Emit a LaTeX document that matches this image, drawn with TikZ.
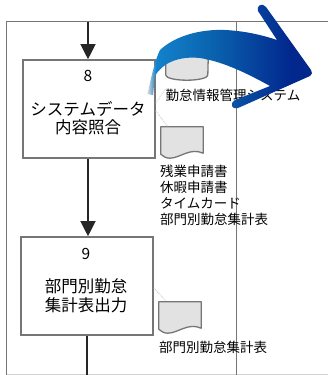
\documentclass[tikz,border=0pt]{standalone}
\usepackage{fontspec}
\setmainfont{Noto Sans CJK JP}
\usetikzlibrary{arrows.meta}
\definecolor{arcL}{HTML}{DADADA}
\definecolor{arcA}{HTML}{1482CC}
\definecolor{arcB}{HTML}{0A62AE}
\definecolor{arcC}{HTML}{02288E}
\definecolor{flow}{HTML}{767676}
\definecolor{docfill}{HTML}{E2E2E2}
\pgfdeclarehorizontalshading{bluearc}{100bp}{
  color(0bp)=(arcL);
  color(25bp)=(arcL);
  color(27.5bp)=(arcA);
  color(45bp)=(arcB);
  color(68bp)=(arcC);
  color(100bp)=(arcC)}
\tikzset{
  x=1pt,y=-1pt,
  frameline/.style={draw=flow,line width=1.3pt},
  procbox/.style={draw=flow,line width=1.6pt,fill=white,minimum width=132pt,minimum height=98pt,inner sep=0pt,rectangle},
  flowline/.style={draw=black!85,line width=1.2pt},
  flowarrow/.style={flowline,-{Triangle[length=15pt,width=15pt]}},
  assoc/.style={draw=black!22,line width=0.8pt,densely dotted},
  docshape/.style={draw=flow,line width=1.3pt,fill=docfill,line join=round},
  boxnum/.style={font=\fontsize{15.5}{16}\selectfont,inner sep=0pt},
  boxtext/.style={font=\fontsize{16.5}{18.5}\selectfont,align=center,inner sep=0pt},
  doclabel/.style={font=\fontsize{13.5}{16}\selectfont,align=left,anchor=north west,inner sep=0pt},
  anchorbox/.style={minimum width=42pt,minimum height=32pt,inner sep=0pt,rectangle},
}
\newcommand{\wavydoc}[1]{%
  \path[docshape] (#1.north west) -- (#1.north east) -- ([yshift=6pt]#1.south east)
    .. controls ++(-13,-6) and ++(10,0) .. ([xshift=9pt,yshift=1pt]#1.south west)
    .. controls ++(-4,0) and ++(2,2) .. ([yshift=5pt]#1.south west) -- cycle;}
\begin{document}
\begin{tikzpicture}
\useasboundingbox (0,0) rectangle (328,375);
\fill[white] (0,0) rectangle (328,375);
% frame
\draw[frameline,draw=black!18] (6.5,374.5) -- (328,374.5);
\draw[frameline] (328,21.5) -- (6.5,21.5) -- (6.5,375);
\draw[frameline] (236.5,21.5) -- (236.5,375);
% process boxes
\node[procbox] (box8) at (89,109) {};
\node[procbox] (box9) at (87,286) {};
\node[boxnum] (num8) at (88,76) {8};
\node[boxnum] (num9) at (86,254) {9};
\node[boxtext] (txt8) at (88,118) {システムデータ\\内容照合};
\node[boxtext] (txt9) at (86,296) {部門別勤怠\\集計表出力};
% flow
\coordinate (topin) at (88,21.5);
\coordinate (botout) at (87,375);
\draw[flowarrow] (topin) -- (box8.north -| topin);
\draw[flowarrow] (box8.south -| topin) -- (box9.north -| topin);
\draw[flowline] (box9.south) -- (botout);
% database
\node[minimum width=42pt,minimum height=15pt,inner sep=0pt,rectangle] (db) at (187,67.5) {};
\path[docshape] (db.north west) -- (db.south west)
   arc[start angle=180,end angle=360,x radius=21pt,y radius=5pt]
   -- (db.north east) arc[start angle=0,end angle=180,x radius=21pt,y radius=4pt] -- cycle;
% documents
\node[anchorbox] (doc1) at (182,143) {};
\node[anchorbox] (doc2) at (180,318) {};
\wavydoc{doc1}
\wavydoc{doc2}
% association
\coordinate (d0) at (166,88);
\coordinate (d1) at (168,127);
\coordinate (d2) at (166,301);
\draw[assoc] (box8.east |- 0,103) -- (d0);
\draw[assoc] (box8.east |- 0,111) -- (d1);
\draw[assoc] (box9.east |- 0,288) -- (d2);
% labels
\node[doclabel] (lab0) at (165.5,89) {勤怠情報管理システム};
\node[doclabel] (lab1) at (160,165) {残業申請書\\休暇申請書\\タイムカード\\部門別勤怠集計表};
\node[doclabel] (lab2) at (159,341) {部門別勤怠集計表};
% big arrow
\path[shading=bluearc,line join=round] (147.5,94)
  .. controls (151,78) and (155,60) .. (160,50)
  .. controls (175,36) and (200,29) .. (225,30)
  .. controls (245,31) and (262,35) .. (277,40)
  -- (258,11)
  .. controls (256,6) and (262,2) .. (266,7)
  -- (311,70)
  .. controls (313,72) and (312,75) .. (310,76)
  -- (238,108)
  .. controls (232,110) and (229,104) .. (235,100)
  -- (270,86)
  .. controls (250,75) and (225,62) .. (200,58)
  .. controls (180,56) and (163,62) .. (155,76)
  -- (153,95) -- cycle;
\end{tikzpicture}
\end{document}
